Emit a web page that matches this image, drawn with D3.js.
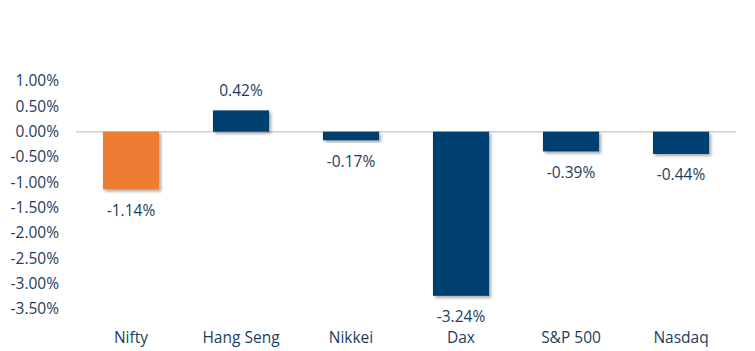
<!DOCTYPE html>
<html>
<head>
<meta charset="utf-8">
<script src="https://cdn.jsdelivr.net/npm/d3@7"></script>
<style>
  body { margin: 0; background: #fff; }
  text { font-family: "Open Sans", sans-serif; fill: #1d3d5e; }
</style>
</head>
<body>
<div id="chart"></div>
<script>
const categories = ["Nifty", "Hang Seng", "Nikkei", "Dax", "S&P 500", "Nasdaq"];
const changes = [-1.14, 0.42, -0.17, -3.24, -0.39, -0.44];
const yTicks = [1, 0.5, 0, -0.5, -1, -1.5, -2, -2.5, -3, -3.5];

const width = 755,
  height = 351;

// plain hyphen instead of d3's unicode minus, like the original
const pct = d => d.toFixed(2) + "%";

const x = d3.scaleBand().domain(categories).range([76, 736]).paddingInner(0.49).paddingOuter(0.245);
const y = d3.scaleLinear().domain([-3.5, 1]).range([309, 81]);

const svg = d3.select("#chart")
  .append("svg")
  .attr("width", width)
  .attr("height", height);

// soft shadow under the bars
const filter = svg.append("defs").append("filter")
  .attr("id", "shadow")
  .attr("x", "-20%").attr("y", "-20%")
  .attr("width", "140%").attr("height", "140%");
filter.append("feDropShadow")
  .attr("dx", 2).attr("dy", 2)
  .attr("stdDeviation", 1.5)
  .attr("flood-color", "#000")
  .attr("flood-opacity", 0.35);

// y axis labels only, no line
svg.append("g")
  .attr("font-size", 15.5)
  .attr("text-anchor", "end")
  .selectAll("text")
  .data(yTicks)
  .join("text")
  .attr("x", 59)
  .attr("y", d => y(d))
  .attr("dy", "0.35em")
  .text(pct);

// zero line
svg.append("line")
  .attr("x1", 76).attr("x2", 736)
  .attr("y1", y(0)).attr("y2", y(0))
  .attr("stroke", "#d0d0d0")
  .attr("stroke-width", 1.5);

const data = categories.map((c, i) => ({ name: c, value: changes[i] }));

svg.append("g")
  .selectAll("rect")
  .data(data)
  .join("rect")
  .attr("x", d => x(d.name))
  .attr("width", x.bandwidth())
  .attr("y", d => y(Math.max(0, d.value)))
  .attr("height", d => Math.abs(y(d.value) - y(0)))
  .attr("fill", (d, i) => i === 0 ? "#ed7d31" : "#004070")
  .attr("filter", "url(#shadow)");

// value labels
svg.append("g")
  .attr("font-size", 15.5)
  .attr("text-anchor", "middle")
  .selectAll("text")
  .data(data)
  .join("text")
  .attr("x", d => x(d.name) + x.bandwidth() / 2)
  .attr("y", d => d.value >= 0 ? y(d.value) - 20 : y(d.value) + 21)
  .attr("dy", "0.35em")
  .text(d => pct(d.value));

// category labels
svg.append("g")
  .attr("font-size", 15.5)
  .attr("text-anchor", "middle")
  .selectAll("text")
  .data(categories)
  .join("text")
  .attr("x", d => x(d) + x.bandwidth() / 2)
  .attr("y", 338)
  .attr("dy", "0.35em")
  .text(d => d);
</script>
</body>
</html>
